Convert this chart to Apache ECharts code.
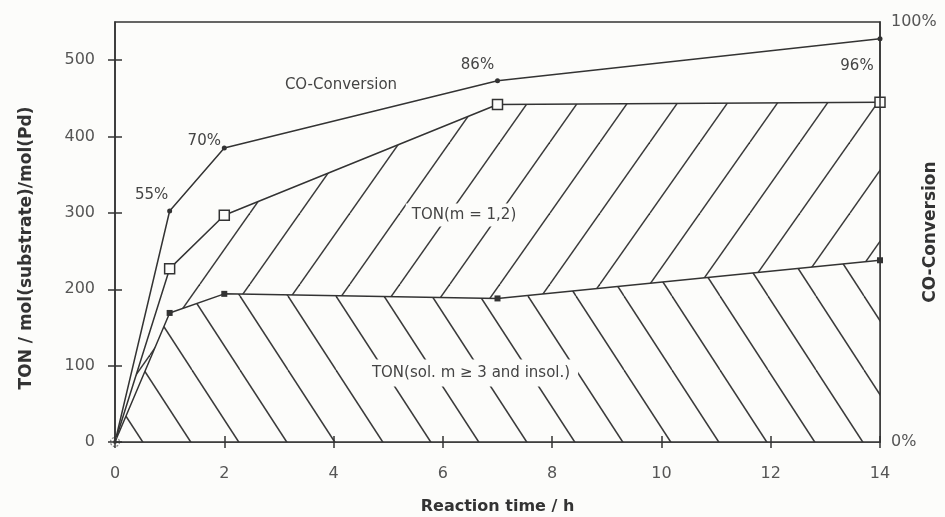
<!DOCTYPE html>
<html>
<head>
<meta charset="utf-8">
<script src="https://cdn.jsdelivr.net/npm/echarts@6/dist/echarts.min.js"></script>
<style>
html,body{margin:0;padding:0;background:#fcfcfa;}
#c{width:945px;height:517px;}
</style>
</head>
<body>
<div id="c"></div>
<script>
// ---- data ----
const timeH         = [0, 1, 2, 7, 14];
const conversionPct = [0, 55, 70, 86, 96];
const tonTotal      = [0, 227, 297, 442, 445];   // TON(m = 1,2) upper boundary (open squares)
const tonHigher     = [0, 169, 194, 188, 238];   // TON(sol. m >= 3 and insol.) (filled squares)
const xTicks   = [0, 2, 4, 6, 8, 10, 12, 14];
const yTicks   = [0, 100, 200, 300, 400, 500];
const pctTicks = [0, 100];

// ---- styling ----
const BG = '#fcfcfa';
const INK = '#333';
const FONT = 'DejaVu Sans';
const convLabelOffsets = [null, [-18, -16], [-20, -7], [-20, -16], [-23, 27]];

function hatchTile(w, h, dir) {
  const c = document.createElement('canvas');
  c.width = w; c.height = h;
  const g = c.getContext('2d');
  g.fillStyle = BG; g.fillRect(0, 0, w, h);
  g.strokeStyle = '#3a3a3a'; g.lineWidth = 1.5;
  for (let k = -1; k <= 1; k++) {
    g.beginPath();
    if (dir === 'up') { g.moveTo(k * w, h); g.lineTo(k * w + w, 0); }
    else { g.moveTo(k * w, 0); g.lineTo(k * w + w, h); }
    g.stroke();
  }
  return c;
}
const patUp = { image: hatchTile(50, 71, 'up'), repeat: 'repeat' };
const patDown = { image: hatchTile(48, 74, 'down'), repeat: 'repeat' };

const pairs = (ys) => timeH.map((t, i) => [t, ys[i]]);

const chart = echarts.init(document.getElementById('c'));
chart.setOption({
  backgroundColor: BG,
  animation: false,
  grid: { left: 115, right: 65, top: 22, bottom: 75, containLabel: false, outerBoundsMode: 'none',
          show: true, borderColor: INK, borderWidth: 1.5, backgroundColor: 'transparent' },
  xAxis: [
    {
      type: 'value', min: 0, max: 14, interval: 2, position: 'bottom', z: 10,
      axisLine: { lineStyle: { color: INK, width: 1.5 } },
      axisTick: { show: true, length: 6, customValues: xTicks, lineStyle: { color: INK, width: 1.5 } },
      axisLabel: { color: '#555', fontFamily: FONT, fontSize: 16, margin: 24, customValues: xTicks },
      splitLine: { show: false },
      name: 'Reaction time / h', nameLocation: 'middle', nameGap: 57, nameMoveOverlap: false,
      nameTextStyle: { color: INK, fontFamily: FONT, fontSize: 16, fontWeight: 'bold' }
    },
    {
      type: 'value', min: 0, max: 14, interval: 2, position: 'bottom', z: 10,
      axisLine: { show: false },
      axisTick: { show: true, inside: true, length: 6, customValues: xTicks, lineStyle: { color: INK, width: 1.5 } },
      axisLabel: { show: false }, splitLine: { show: false }
    }
  ],
  yAxis: [
    {
      type: 'value', min: 0, max: 550, position: 'left', z: 10,
      axisLine: { show: true, lineStyle: { color: INK, width: 1.5 } },
      axisTick: { show: true, length: 7, customValues: yTicks, lineStyle: { color: INK, width: 1.5 } },
      axisLabel: { color: '#555', fontFamily: FONT, fontSize: 16, margin: 20, customValues: yTicks },
      splitLine: { show: false },
      name: 'TON / mol(substrate)/mol(Pd)', nameLocation: 'middle', nameGap: 80, nameMoveOverlap: false,
      nameTextStyle: { color: INK, fontFamily: FONT, fontSize: 17, fontWeight: 'bold', padding: [0, 32, 0, 0] }
    },
    {
      type: 'value', min: 0, max: 550, position: 'left', z: 10,
      axisLine: { show: false },
      axisTick: { show: true, inside: true, length: 7, customValues: yTicks, lineStyle: { color: INK, width: 1.5 } },
      axisLabel: { show: false, customValues: yTicks }, splitLine: { show: false }
    },
    {
      type: 'value', min: 0, max: 100, position: 'right', z: 10,
      axisLine: { show: true, lineStyle: { color: INK, width: 1.5 } },
      axisTick: { show: false },
      axisLabel: { color: '#555', fontFamily: FONT, fontSize: 16, margin: 11, customValues: pctTicks, formatter: '{value}%' },
      splitLine: { show: false },
      name: 'CO-Conversion', nameLocation: 'middle', nameGap: 42, nameMoveOverlap: false,
      nameTextStyle: { color: INK, fontFamily: FONT, fontSize: 17, fontWeight: 'bold' }
    }
  ],
  series: [
    {
      name: 'TON(m = 1,2)', type: 'line', xAxisIndex: 0, yAxisIndex: 0, z: 2,
      data: pairs(tonTotal), symbol: 'none',
      lineStyle: { color: INK, width: 1.5 },
      areaStyle: { color: patUp, opacity: 1 }
    },
    {
      name: 'TON(sol. m ≥ 3 and insol.)', type: 'line', xAxisIndex: 0, yAxisIndex: 0, z: 3,
      data: pairs(tonHigher), symbol: 'none',
      lineStyle: { color: INK, width: 1.5 },
      areaStyle: { color: patDown, opacity: 1 }
    },
    {
      name: 'CO-Conversion', type: 'line', xAxisIndex: 0, yAxisIndex: 2, z: 4,
      data: timeH.map((t, i) => {
        const off = convLabelOffsets[i];
        return {
          value: [t, conversionPct[i]],
          symbol: i === 0 ? 'none' : 'circle',
          label: off ? { show: true, position: 'inside', offset: off } : { show: false }
        };
      }),
      symbolSize: 5,
      itemStyle: { color: INK },
      lineStyle: { color: INK, width: 1.5 },
      label: { color: '#444', fontFamily: FONT, fontSize: 15, formatter: (p) => p.value[1] + '%' }
    },
    {
      type: 'scatter', xAxisIndex: 0, yAxisIndex: 0, z: 5,
      data: pairs(tonTotal).slice(1), symbol: 'rect', symbolSize: 10,
      itemStyle: { color: BG, borderColor: INK, borderWidth: 1.5, opacity: 1 }
    },
    {
      type: 'scatter', xAxisIndex: 0, yAxisIndex: 0, z: 5,
      data: pairs(tonHigher).slice(1), symbol: 'rect', symbolSize: 6,
      itemStyle: { color: INK, opacity: 1 }
    },
    {
      type: 'scatter', xAxisIndex: 0, yAxisIndex: 0, z: 6,
      data: [[timeH[0], tonTotal[0]]], symbol: 'circle', symbolSize: 9,
      itemStyle: { color: 'rgba(0,0,0,0)', borderColor: '#666', borderWidth: 1.2, borderType: [2, 1.5] }
    },
    {
      type: 'scatter', xAxisIndex: 0, yAxisIndex: 0, z: 7,
      data: [[timeH[0], tonTotal[0]]], symbol: 'circle', symbolSize: 4,
      itemStyle: { color: INK }
    }
  ],
  graphic: [
    { type: 'text', x: 341, y: 85, z: 20, style: { text: 'CO-Conversion', fill: '#444', font: '15px "DejaVu Sans"', align: 'center', verticalAlign: 'middle' } },
    { type: 'text', x: 464, y: 215, z: 20, style: { text: 'TON(m = 1,2)', fill: '#444', font: '15px "DejaVu Sans"', align: 'center', verticalAlign: 'middle', backgroundColor: BG, padding: [4, 6] } },
    { type: 'text', x: 471, y: 373, z: 20, style: { text: 'TON(sol. m ≥ 3 and insol.)', fill: '#444', font: '15px "DejaVu Sans"', align: 'center', verticalAlign: 'middle', backgroundColor: BG, padding: [6, 8] } }
  ]
});
</script>
</body>
</html>
